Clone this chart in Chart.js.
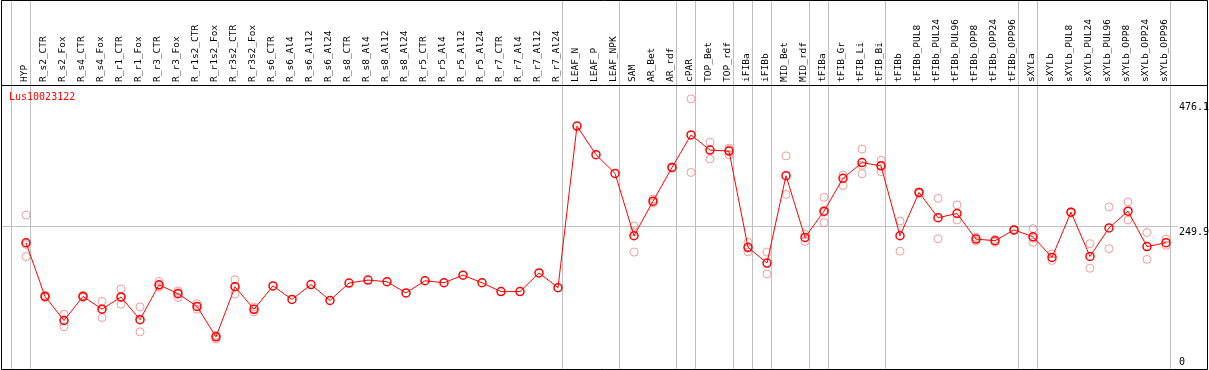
<!DOCTYPE html>
<html>
<head>
<meta charset="utf-8">
<script src="https://cdn.jsdelivr.net/npm/chart.js@4/dist/chart.umd.min.js"></script>
<style>
html, body { margin: 0; padding: 0; background: #fff; }
canvas { display: block; }
</style>
</head>
<body>
<canvas id="exprChart" width="1209" height="370"></canvas>
<script>
var samples = ['HYP', 'R_s2_CTR', 'R_s2_Fox', 'R_s4_CTR', 'R_s4_Fox', 'R_r1_CTR', 'R_r1_Fox',
    'R_r3_CTR', 'R_r3_Fox', 'R_r1s2_CTR', 'R_r1s2_Fox', 'R_r3s2_CTR', 'R_r3s2_Fox',
    'R_s6_CTR', 'R_s6_Al4', 'R_s6_Al12', 'R_s6_Al24', 'R_s8_CTR', 'R_s8_Al4', 'R_s8_Al12', 'R_s8_Al24',
    'R_r5_CTR', 'R_r5_Al4', 'R_r5_Al12', 'R_r5_Al24', 'R_r7_CTR', 'R_r7_Al4', 'R_r7_Al12', 'R_r7_Al24',
    'LEAF_N', 'LEAF_P', 'LEAF_NPK', 'SAM', 'AR_Bet', 'AR_rdf', 'cPAR', 'TOP_Bet', 'TOP_rdf',
    'iFIBa', 'iFIBb', 'MID_Bet', 'MID_rdf', 'tFIBa', 'tFIB_Gr', 'tFIB_Li', 'tFIB_Bi', 'tFIBb',
    'tFIBb_PUL8', 'tFIBb_PUL24', 'tFIBb_PUL96', 'tFIBb_OPP8', 'tFIBb_OPP24', 'tFIBb_OPP96',
    'sXYLa', 'sXYLb', 'sXYLb_PUL8', 'sXYLb_PUL24', 'sXYLb_PUL96', 'sXYLb_OPP8', 'sXYLb_OPP24', 'sXYLb_OPP96'];

// mean expression (red line)
var meanValues = [220, 123, 79.5, 123, 100, 122, 81, 144, 128, 105, 50, 140.6, 99.7,
    142, 117.5, 144.5, 115.7, 147.2, 152.5, 149.5, 129.4,
    151.3, 147.7, 161.4, 147.7, 131.7, 131.7, 165.5, 138.8,
    430.7, 379.1, 345.3, 232.6, 295, 356, 414.7, 387.4, 385.6,
    211.8, 183.3, 341.2, 229.6, 277.1, 336.4, 364.8, 358.9, 232.6,
    310.9, 265.2, 272.8, 226.6, 223.6, 243.2,
    230.8, 193.4, 275.3, 195.2, 246.8, 277.1, 213, 220.1];

// replicates (pink circles)
var rep1 = [270, 125, 91, 125, 114, 136.5, 104, 150, 133, 110, 53, 153, 104,
    null, null, null, null, null, null, null, null,
    null, null, null, null, null, null, null, null,
    null, null, null, 250.4, 299, 357, 480, 401.6, 391,
    221, 203, 377, 235, 302, 342.3, 389.2, 369, 259.3,
    312, 300.2, 288.3, 230, 226, 244,
    245.6, 199.9, 276, 218.4, 284.7, 293.6, 238.5, 226.6];
var rep2 = [195, 121, 68, 121, 85, 109, 59, 140, 121, 100, 46, 127.5, 95,
    null, null, null, null, null, null, null, null,
    null, null, null, null, null, null, null, null,
    null, null, null, 203, 292, 355, 347, 371.4, 379,
    203.4, 163.7, 307.3, 222.4, 256.3, 323.4, 344.7, 348.3, 204.7,
    309, 227.3, 261, 223, 221, 242,
    220.7, 188, 274, 173.9, 209.4, 261, 189.9, 215.4];
var rep3 = [217, 123, 80, 123, 100, 121, 81, 143, 130, 105, 51, 141, 100,
    null, null, null, null, null, null, null, null,
    null, null, null, null, null, null, null, null,
    null, null, null, 240, null, null, null, null, 388,
    210, null, null, null, 275, null, 360, 360, null,
    null, null, null, null, null, null,
    228, null, null, null, null, null, null, null];

var yTicks = [0, 249.9, 476.1];
var yMax = 505;
// last sample index of each group (gray separators)
var groupEnds = [-1, 0, 28, 31, 34, 35, 37, 38, 39, 41, 42, 45, 52, 53, 60];
var geneName = 'Lus10023122';

var monoFont = "'DejaVu Sans Mono', 'Liberation Mono', monospace";

var framePlugin = {
    id: 'frame',
    beforeDraw: function (chart) {
        var ctx = chart.ctx;
        var xs = chart.scales.x;
        var ys = chart.scales.y;
        var p0 = xs.getPixelForValue(0);
        var step = xs.getPixelForValue(1) - p0;
        ctx.save();
        ctx.strokeStyle = '#c0c0c0';
        ctx.lineWidth = 1;
        groupEnds.forEach(function (b) {
            var px = Math.round(p0 + (b + 0.23) * step) + 0.5;
            ctx.beginPath();
            ctx.moveTo(px, 0);
            ctx.lineTo(px, 369);
            ctx.stroke();
        });
        var gy = Math.round(ys.getPixelForValue(yTicks[1])) + 0.5;
        ctx.beginPath();
        ctx.moveTo(1, gy);
        ctx.lineTo(1178, gy);
        ctx.stroke();
        ctx.restore();
    },
    afterDraw: function (chart) {
        var ctx = chart.ctx;
        var ys = chart.scales.y;
        ctx.save();
        ctx.font = '10px ' + monoFont;
        ctx.fillStyle = '#000';
        ctx.textAlign = 'left';
        ctx.textBaseline = 'top';
        yTicks.forEach(function (v) {
            var py = Math.min(ys.getPixelForValue(v) + 1, 357);
            ctx.fillText(String(v), 1179, py);
        });
        ctx.fillStyle = '#ff0000';
        ctx.fillText(geneName, 9, 92);

        ctx.strokeStyle = '#000';
        ctx.lineWidth = 1;
        ctx.beginPath();
        ctx.moveTo(1.5, 0.5); ctx.lineTo(1207.5, 0.5);
        ctx.lineTo(1207.5, 369.5); ctx.lineTo(1.5, 369.5); ctx.closePath();
        ctx.moveTo(1.5, 85.5); ctx.lineTo(1207.5, 85.5);
        ctx.stroke();
        ctx.restore();
    }
};

var repStyle = {
    showLine: false,
    pointRadius: 4,
    pointBorderWidth: 1,
    pointBorderColor: 'rgba(236, 140, 140, 0.85)',
    pointBackgroundColor: 'rgba(0,0,0,0)'
};

var exprChart = new Chart(document.getElementById('exprChart'), {
    type: 'line',
    data: {
        labels: samples,
        datasets: [{
            label: geneName,
            data: meanValues,
            borderColor: '#ff0000',
            borderWidth: 1,
            pointRadius: 4,
            pointBorderWidth: 1.5,
            pointBorderColor: '#ff0000',
            pointBackgroundColor: 'rgba(0,0,0,0)',
            tension: 0,
            order: 0
        },
        Object.assign({ label: 'rep1', data: rep1, order: 1 }, repStyle),
        Object.assign({ label: 'rep2', data: rep2, order: 2 }, repStyle),
        Object.assign({ label: 'rep3', data: rep3, order: 3 }, repStyle)
        ]
    },
    options: {
        responsive: false,
        animation: false,
        devicePixelRatio: 1,
        layout: {
            padding: { left: 26, right: 0, top: 0, bottom: 1 }
        },
        plugins: {
            legend: { display: false },
            tooltip: { enabled: false }
        },
        scales: {
            x: {
                position: 'top',
                offset: false,
                grid: { display: false, drawTicks: false },
                border: { display: false },
                ticks: {
                    autoSkip: false,
                    minRotation: 90,
                    maxRotation: 90,
                    padding: 3,
                    labelOffset: 10,
                    color: '#000',
                    font: { family: monoFont, size: 9.5 }
                },
                afterFit: function (scale) { scale.height = 85; }
            },
            y: {
                position: 'right',
                min: 0,
                max: yMax,
                grid: { display: false },
                border: { display: false },
                ticks: { display: false },
                afterFit: function (scale) { scale.width = 43; }
            }
        }
    },
    plugins: [framePlugin]
});
</script>
</body>
</html>
